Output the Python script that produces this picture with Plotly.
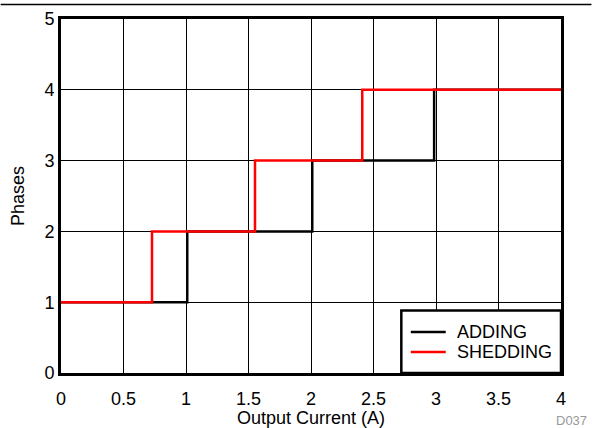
import plotly.graph_objects as go

# Data
adding_current = [0.0, 1.01, 2.01, 2.985, 4.0]
adding_phases = [1, 2, 3, 4, 4]
shedding_current = [0.0, 0.728, 1.552, 2.41, 4.0]
shedding_phases = [1, 2, 3, 4, 4]

series_names = ["ADDING", "SHEDDING"]
series_colors = ["black", "#ff0000"]

x_ticks = [0, 0.5, 1, 1.5, 2, 2.5, 3, 3.5, 4]
x_tick_labels = ["0", "0.5", "1", "1.5", "2", "2.5", "3", "3.5", "4"]
y_ticks = [0, 1, 2, 3, 4, 5]

FONT = "Liberation Sans, Arial, Helvetica, sans-serif"
FS = 18

fig = go.Figure()
fig.add_trace(go.Scatter(x=adding_current, y=adding_phases, mode="lines",
                         line=dict(color=series_colors[0], width=2.5, shape="hv"),
                         name=series_names[0]))
fig.add_trace(go.Scatter(x=shedding_current, y=shedding_phases, mode="lines",
                         line=dict(color=series_colors[1], width=2.5, shape="hv"),
                         name=series_names[1]))

L, R, T, B = 60.5, 30.5, 18.5, 55
W, H = 592, 428
pw = W - L - R
ph = H - T - B
bottom_px = H - B


def px_x(p):
    return (p - L) / pw


def px_y(p):
    return (bottom_px - p) / ph


fig.update_layout(
    width=W, height=H,
    margin=dict(l=L, r=R, t=T, b=B, pad=0, autoexpand=False),
    paper_bgcolor="white", plot_bgcolor="white",
    font=dict(family=FONT, size=FS, color="black"),
    showlegend=False,
    xaxis=dict(range=[0, 4], tickvals=x_ticks, ticktext=x_tick_labels,
               showgrid=True, gridcolor="black", gridwidth=1,
               showline=True, linecolor="black", linewidth=3, mirror=True,
               ticks="", zeroline=False, fixedrange=True, automargin=False,
               ticklabelstandoff=7,
               title=dict(text="Output Current (A)", standoff=0,
                          font=dict(size=FS))),
    yaxis=dict(range=[0, 5], tickvals=y_ticks,
               showgrid=True, gridcolor="black", gridwidth=1,
               showline=True, linecolor="black", linewidth=3, mirror=True,
               ticks="", zeroline=False, fixedrange=True, automargin=False,
               title=dict(text="Phases", standoff=16, font=dict(size=FS))),
)

# Top rule line across the whole page
fig.add_shape(type="line", xref="paper", yref="paper",
              x0=px_x(0), x1=px_x(W), y0=px_y(4), y1=px_y(4),
              line=dict(color="black", width=1.5))

# Legend box (drawn by hand to match the reference's compact layout)
fig.add_shape(type="rect", xref="paper", yref="paper", layer="above",
              x0=px_x(401.5), x1=1.0, y0=0.0, y1=px_y(310.5),
              line=dict(color="black", width=2.5), fillcolor="white")
for i, (nm, col) in enumerate(zip(series_names, series_colors)):
    row_y = px_y(332 + 20 * i)
    fig.add_shape(type="line", xref="paper", yref="paper", layer="above",
                  x0=px_x(411), x1=px_x(446), y0=row_y, y1=row_y,
                  line=dict(color=col, width=2.5))
    fig.add_annotation(text=nm, xref="paper", yref="paper",
                       x=px_x(455), y=row_y, xanchor="left", yanchor="middle",
                       showarrow=False, font=dict(size=FS, color="black", family=FONT))

# Figure identifier
fig.add_annotation(text="D037", xref="paper", yref="paper",
                   x=px_x(W - 2), y=px_y(421),
                   xanchor="right", yanchor="middle", showarrow=False,
                   font=dict(size=13, color="#999999", family=FONT))

fig.write_html("out.html",
               config={"displayModeBar": False},
               post_script="document.body.style.margin='0';document.body.style.overflow='hidden';")
